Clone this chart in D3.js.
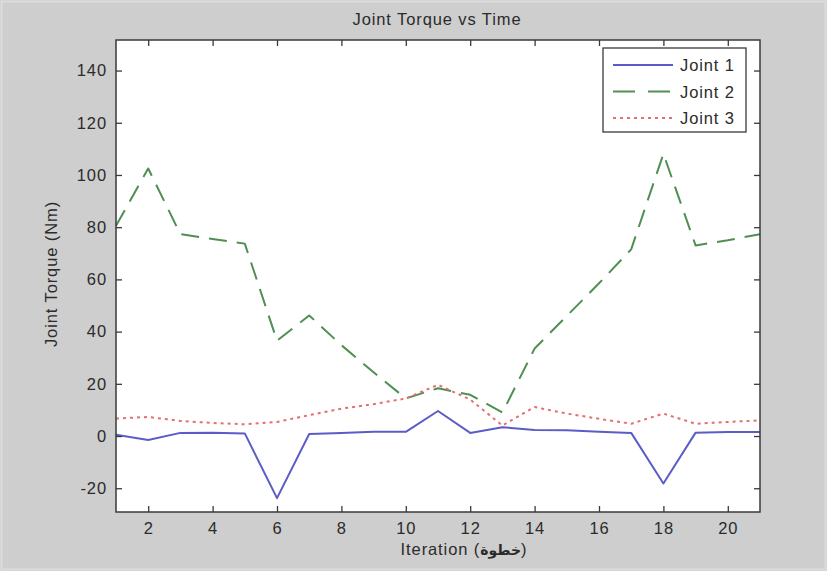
<!DOCTYPE html>
<html>
<head>
<meta charset="utf-8">
<script src="https://cdn.jsdelivr.net/npm/d3@7"></script>
<style>
  body { margin: 0; background: #cecece; }
  svg { display: block; font-family: "Liberation Sans", Arial, sans-serif; }
  .tick text { fill: #2b2b2b; font-size: 16.5px; letter-spacing: 0.9px; }
  .lbl { fill: #2b2b2b; font-size: 16.5px; letter-spacing: 0.9px; }
</style>
</head>
<body>
<svg id="chart" width="827" height="571"></svg>
<script>
// iterations on the x axis
iterations = [1,2,3,4,5,6,7,8,9,10,11,12,13,14,15,16,17,18,19,20,21]

// torque per joint (Nm)
joint1 = [0.5,-1.5,1.2,1.3,1,-23.8,0.8,1.2,1.6,1.6,9.6,1.2,3.4,2.3,2.2,1.6,1.2,-18.2,1.3,1.5,1.5]
joint2 = [80.5,102.5,77.3,75.5,73.7,36.5,46.2,34.8,24.4,14.4,18.3,15.8,9,33.5,46,58.5,71.5,108.1,73,75,77.3]
joint3 = [6.7,7.3,5.8,5,4.5,5.4,8,10.5,12.2,14.4,19.6,14,4,11.1,8.6,6.6,4.7,8.6,4.7,5.4,6]

seriesNames = ["Joint 1","Joint 2","Joint 3"]
seriesColors = ["#5c5cc9","#4f8f52","#e56e6e"]
seriesDash = [null,"18,10","3,4"]

xTicks = [2,4,6,8,10,12,14,16,18,20]
yTicks = [-20,0,20,40,60,80,100,120,140]

titleText = "Joint Torque vs Time"
yLabelText = "Joint Torque (Nm)"

svg = d3.select("#chart")
W = 827, H = 571
box = {left:116, right:760, top:40, bottom:512}

// faint outer frame of the figure window
svg.append("rect")
  .attr("x",1.5).attr("y",1.5)
  .attr("width",W-3).attr("height",H-3)
  .attr("fill","none").attr("stroke","#dcdcdc").attr("stroke-width",2)

x = d3.scaleLinear().domain([1,21]).range([box.left, box.right])
y = d3.scaleLinear().domain([-29.1,151.7]).range([box.bottom, box.top])

// white plotting area
svg.append("rect")
  .attr("x",box.left).attr("y",box.top)
  .attr("width",box.right-box.left).attr("height",box.bottom-box.top)
  .attr("fill","white")

/*
lines
*/
allSeries = [joint1, joint2, joint3]
line = d3.line().x((d,i) => x(iterations[i])).y(d => y(d))

clip = svg.append("clipPath").attr("id","plotclip")
clip.append("rect")
  .attr("x",box.left).attr("y",box.top)
  .attr("width",box.right-box.left).attr("height",box.bottom-box.top)

svg.append("g").attr("clip-path","url(#plotclip)")
  .selectAll("path")
  .data(allSeries).enter()
    .append("path")
    .attr("d", d => line(d))
    .attr("fill","none")
    .attr("stroke",(d,i) => seriesColors[i])
    .attr("stroke-width",2)
    .attr("stroke-dasharray",(d,i) => seriesDash[i])
    .attr("stroke-linejoin","round")

/*
axes, inward ticks on all four sides (matlab box)
*/
function styleAxis(g){
  g.select(".domain").remove()
  g.selectAll(".tick line").attr("stroke","#3a3a3a").attr("stroke-width",1.3)
}
plain = d => String(d)   // keep the ascii hyphen for negatives
svg.append("g").attr("transform","translate(0,"+box.bottom+")")
  .call(d3.axisBottom(x).tickValues(xTicks).tickSize(-6).tickPadding(10).tickFormat(plain))
  .call(styleAxis)
svg.append("g").attr("transform","translate(0,"+box.top+")")
  .call(d3.axisTop(x).tickValues(xTicks).tickSize(-6).tickFormat(""))
  .call(styleAxis)
svg.append("g").attr("transform","translate("+box.left+",0)")
  .call(d3.axisLeft(y).tickValues(yTicks).tickSize(-6).tickPadding(9).tickFormat(plain))
  .call(styleAxis)
svg.append("g").attr("transform","translate("+box.right+",0)")
  .call(d3.axisRight(y).tickValues(yTicks).tickSize(-6).tickFormat(""))
  .call(styleAxis)

svg.append("rect")
  .attr("x",box.left).attr("y",box.top)
  .attr("width",box.right-box.left).attr("height",box.bottom-box.top)
  .attr("fill","none").attr("stroke","#3a3a3a").attr("stroke-width",1.5)

/*
labels
*/
svg.append("text").attr("class","lbl")
  .attr("x",437).attr("y",25)
  .attr("text-anchor","middle")
  .text(titleText)

svg.append("text").attr("class","lbl")
  .attr("transform","translate(57,274) rotate(-90)")
  .attr("text-anchor","middle")
  .text(yLabelText)

xl = svg.append("text").attr("class","lbl")
  .attr("x",464).attr("y",555)
  .attr("text-anchor","middle")
xl.append("tspan").text("Iteration (")
xl.append("tspan").attr("font-weight","bold").style("font-family","'DejaVu Sans'").style("font-size","14px").style("letter-spacing","0px").text("خطوة")
xl.append("tspan").text(")")

/*
legend
*/
leg = svg.append("g").attr("transform","translate(603,48)")
leg.append("rect")
  .attr("width",143).attr("height",84)
  .attr("fill","white").attr("stroke","#3a3a3a").attr("stroke-width",1.3)

rows = leg.selectAll(".legrow")
  .data(seriesNames).enter()
    .append("g")
    .attr("class","legrow")
    .attr("transform",(d,i) => "translate(0,"+(17+i*26.5)+")")
rows.append("line")
  .attr("x1",10).attr("x2",70)
  .attr("stroke",(d,i) => seriesColors[i])
  .attr("stroke-width",2)
  .attr("stroke-dasharray",(d,i) => seriesDash[i] ? (i==1 ? "22,13" : "3,4") : null)
rows.append("text").attr("class","lbl")
  .attr("x",77).attr("y",6)
  .text(d => d)
</script>
</body>
</html>
